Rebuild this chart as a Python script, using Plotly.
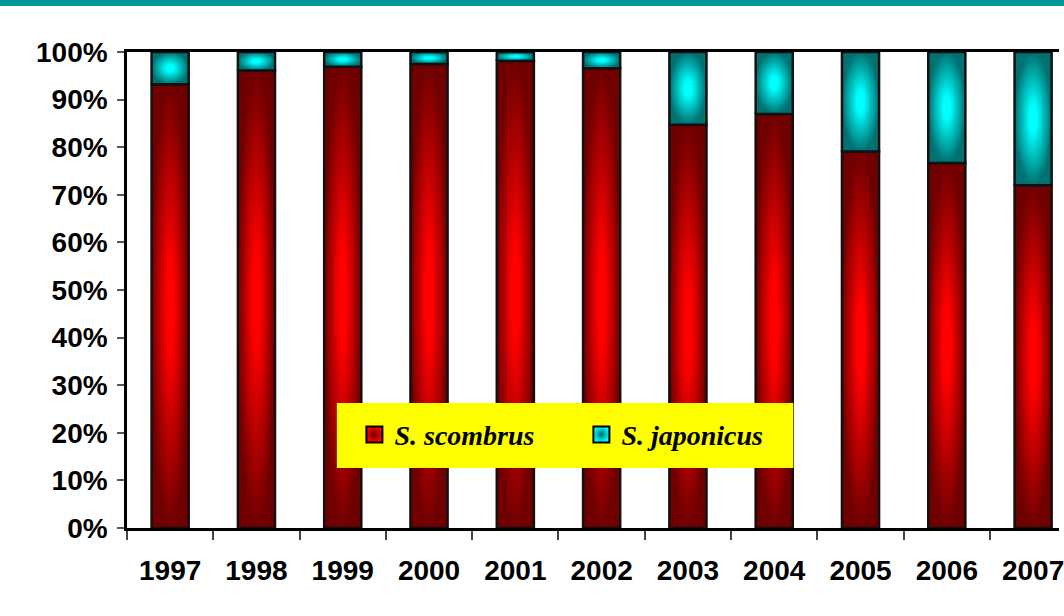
import plotly.graph_objects as go

# Annual catch composition of mackerel species (% of total landings)
years = ["1997", "1998", "1999", "2000", "2001", "2002",
         "2003", "2004", "2005", "2006", "2007"]
scombrus_pct = [93.2, 96.1, 96.9, 97.5, 98.1, 96.6, 84.7, 87.0, 79.1, 76.7, 72.0]
japonicus_pct = [6.8, 3.9, 3.1, 2.5, 1.9, 3.4, 15.3, 13.0, 20.9, 23.3, 28.0]

series = [
    ("S. scombrus", scombrus_pct, "#ff0000", "#700000"),
    ("S. japonicus", japonicus_pct, "#00ffff", "#007070"),
]

BAR_W = 0.43
half = BAR_W / 2

fig = go.Figure()

# Stacked bars drawn as filled rectangles so each segment can carry a radial shade
base = [0.0] * len(years)
for name, vals, c_center, c_edge in series:
    for i, v in enumerate(vals):
        y0 = base[i]
        y1 = base[i] + v
        fig.add_trace(go.Scatter(
            x=[i - half, i + half, i + half, i - half, i - half],
            y=[y0, y0, y1, y1, y0],
            mode="lines",
            fill="toself",
            fillgradient=dict(type="radial",
                              colorscale=[[0, c_center], [0.2, c_center], [1, c_edge]]),
            line=dict(color="#111111", width=2.5),
            showlegend=False,
            hoverinfo="skip",
        ))
        base[i] = y1

# Legend entries
for name, vals, c_center, c_edge in series:
    fig.add_trace(go.Scatter(
        x=[None], y=[None], mode="markers", name=name,
        marker=dict(symbol="square", size=16, color=c_center,
                    line=dict(color="black", width=2),
                    gradient=dict(type="radial", color=c_edge)),
    ))

fig.update_layout(
    width=1064, height=616,
    margin=dict(l=127, r=0, t=52, b=88),
    paper_bgcolor="white", plot_bgcolor="white",
    showlegend=True,
    legend=dict(
        orientation="h",
        x=0.244, y=0.196, xanchor="left", yanchor="middle",
        bgcolor="rgba(0,0,0,0)", borderwidth=0,
        entrywidth=182, entrywidthmode="pixels",
        font=dict(family="Liberation Serif", size=28, color="black",
                  weight="bold", style="italic"),
    ),
    shapes=[
        # teal banner at the top of the page
        dict(type="rect", xref="paper", yref="paper",
             x0=-0.2, x1=1.05, y0=(528 - 6) / 476, y1=(528 + 2) / 476,
             fillcolor="#009999", line=dict(width=0), layer="above"),
        # yellow legend panel
        dict(type="rect", xref="paper", yref="paper",
             x0=0.2252, x1=0.7150, y0=0.1261, y1=0.2626,
             fillcolor="#ffff00", line=dict(width=0), layer="above"),
    ],
)

fig.update_xaxes(
    range=[-0.5, 10.30],
    tickmode="array", tickvals=list(range(len(years))), ticktext=years,
    ticks="outside", ticklen=16, tickcolor="rgba(0,0,0,0)",
    ticklabeloverflow="allow",
    minor=dict(tickmode="linear", tick0=-0.5, dtick=1, ticks="outside",
               ticklen=9, tickwidth=2, tickcolor="#444444"),
    tickfont=dict(family="Liberation Sans", size=28, color="black", weight="bold"),
    showline=True, linecolor="black", linewidth=2.5, mirror=True,
    showgrid=False, zeroline=False, fixedrange=True,
)
fig.update_yaxes(
    range=[0, 100], tickmode="linear", tick0=0, dtick=10, ticksuffix="%",
    ticks="outside", ticklen=7, tickwidth=2, tickcolor="#555555",
    ticklabelstandoff=4,
    tickfont=dict(family="Liberation Sans", size=28, color="black", weight="bold"),
    showline=True, linecolor="black", linewidth=2.5,
    showgrid=False, zeroline=False, fixedrange=True,
)

fig.write_html("out.html")
